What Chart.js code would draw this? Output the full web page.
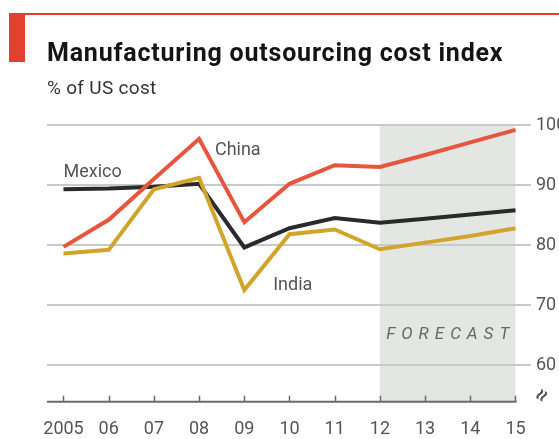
<!DOCTYPE html>
<html>
<head>
<meta charset="utf-8">
<script src="https://cdn.jsdelivr.net/npm/chart.js@4/dist/chart.umd.min.js"></script>
<style>
  html, body { margin: 0; padding: 0; background: #fff; }
  #wrap { position: relative; width: 559px; height: 439px; overflow: hidden; background: #fff; }
  #c { position: absolute; left: 0; top: 0; }
  .topline { position: absolute; left: 9px; top: 13px; width: 550px; height: 2px; background: #e3412f; }
  .block { position: absolute; left: 9px; top: 13px; width: 16px; height: 49px; background: #e3412f; }
  .title { position: absolute; left: 47px; top: 40px; font: bold 25px Roboto, sans-serif; line-height: 25px; letter-spacing: 0.8px; color: #141414; white-space: nowrap; }
  .sub { position: absolute; left: 47px; top: 78px; font: 19px Roboto, sans-serif; line-height: 19px; letter-spacing: 0.3px; color: #333; white-space: nowrap; }
</style>
</head>
<body>
<div id="wrap">
  <canvas id="c" width="559" height="439"></canvas>
  <div class="topline"></div>
  <div class="block"></div>
  <div class="title">Manufacturing outsourcing cost index</div>
  <div class="sub">% of US cost</div>
</div>
<script>
// ---- data ----
const years = [2005, 2006, 2007, 2008, 2009, 2010, 2011, 2012, 2013, 2014, 2015];
const yearLabels = ['2005', '06', '07', '08', '09', '10', '11', '12', '13', '14', '15'];
const china  = [79.7, 84.2, 91.0, 97.7, 83.8, 90.2, 93.3, 93.0, 95.0, 97.1, 99.2];
const mexico = [89.3, 89.4, 89.7, 90.2, 79.6, 82.8, 84.5, 83.7, 84.4, 85.1, 85.8];
const india  = [78.6, 79.2, 89.3, 91.2, 72.5, 81.8, 82.6, 79.3, 80.4, 81.5, 82.8];
const yTicks = [60, 70, 80, 90, 100];
const forecastStart = 2012;
const forecastEnd = 2015;

const pts = arr => arr.map((v, i) => ({ x: years[i], y: v }));

const decor = {
  id: 'decor',
  beforeDraw(chart) {
    const { ctx, chartArea: a, scales: { x, y } } = chart;
    ctx.save();
    ctx.fillStyle = '#fff';
    ctx.fillRect(0, 0, chart.width, chart.height);
    const x0 = x.getPixelForValue(forecastStart), x1 = x.getPixelForValue(forecastEnd);
    ctx.fillStyle = '#e4e6e3';
    ctx.fillRect(x0, y.getPixelForValue(100), x1 - x0, a.bottom - y.getPixelForValue(100));
    ctx.restore();
  },
  afterDatasetsDraw(chart) {
    const { ctx, chartArea: a, scales: { x, y } } = chart;
    ctx.save();
    // x axis line + ticks
    ctx.strokeStyle = '#6a6a6a';
    ctx.lineWidth = 2;
    ctx.beginPath();
    ctx.moveTo(a.left, a.bottom);
    ctx.lineTo(x.getPixelForValue(years[years.length - 1]) + 1, a.bottom);
    ctx.stroke();
    ctx.lineWidth = 1.5;
    years.forEach(yr => {
      const px = Math.round(x.getPixelForValue(yr)) + 0.5;
      ctx.beginPath();
      ctx.moveTo(px, a.bottom);
      ctx.lineTo(px, a.bottom - 6);
      ctx.stroke();
    });
    // axis break mark
    ctx.translate(a.right + 12, a.bottom - 6);
    ctx.rotate(-Math.PI / 3);
    ctx.fillStyle = '#555';
    ctx.font = 'bold 22px Roboto, sans-serif';
    ctx.textAlign = 'center';
    ctx.textBaseline = 'middle';
    ctx.fillText('\u2248', 0, 0);
    ctx.restore();

    // annotations
    ctx.save();
    ctx.fillStyle = '#555';
    ctx.font = '18px Roboto, sans-serif';
    ctx.textBaseline = 'alphabetic';
    ctx.textAlign = 'left';
    ctx.fillText('China', x.getPixelForValue(2008.35), y.getPixelForValue(95));
    ctx.fillText('Mexico', x.getPixelForValue(2005), y.getPixelForValue(91.4));
    ctx.fillText('India', x.getPixelForValue(2009.64), y.getPixelForValue(72.5));
    ctx.font = 'italic 17px Roboto, sans-serif';
    ctx.fillStyle = '#666';
    ctx.letterSpacing = '6px';
    ctx.textAlign = 'center';
    ctx.fillText('FORECAST', x.getPixelForValue(2013.5) + 3, y.getPixelForValue(64.3));
    ctx.restore();
  }
};

new Chart(document.getElementById('c'), {
  type: 'line',
  data: {
    datasets: [
      { label: 'China', data: pts(china), borderColor: '#e8553d', borderWidth: 4, pointRadius: 0, fill: false, tension: 0 },
      { label: 'India', data: pts(india), borderColor: '#d1a52c', borderWidth: 4, pointRadius: 0, fill: false, tension: 0 },
      { label: 'Mexico', data: pts(mexico), borderColor: '#2a2a2a', borderWidth: 4, pointRadius: 0, fill: false, tension: 0 }
    ]
  },
  options: {
    responsive: false,
    animation: false,
    events: [],
    layout: { padding: { left: 47, right: 0, top: 125, bottom: 0 } },
    plugins: { legend: { display: false }, tooltip: { enabled: false }, title: { display: false } },
    scales: {
      x: {
        type: 'linear',
        min: 2004.635,
        max: 2015.343,
        afterBuildTicks: s => { s.ticks = years.map(v => ({ value: v })); },
        afterFit: s => { s.height = 37.3; },
        grid: { display: false, drawTicks: false },
        border: { display: false },
        ticks: {
          padding: 17,
          color: '#555',
          font: { family: 'Roboto', size: 18 },
          maxRotation: 0,
          autoSkip: false,
          callback: v => yearLabels[years.indexOf(v)]
        }
      },
      y: {
        position: 'right',
        min: 53.9,
        max: 100,
        afterBuildTicks: s => { s.ticks = yTicks.map(v => ({ value: v })); },
        afterFit: s => { s.width = 28; },
        grid: { color: '#c9cac8', lineWidth: 2, drawTicks: false },
        border: { display: false },
        ticks: {
          padding: 5,
          color: '#555',
          font: { family: 'Roboto', size: 18 },
          callback: v => String(v)
        }
      }
    }
  },
  plugins: [decor]
});
</script>
</body>
</html>
